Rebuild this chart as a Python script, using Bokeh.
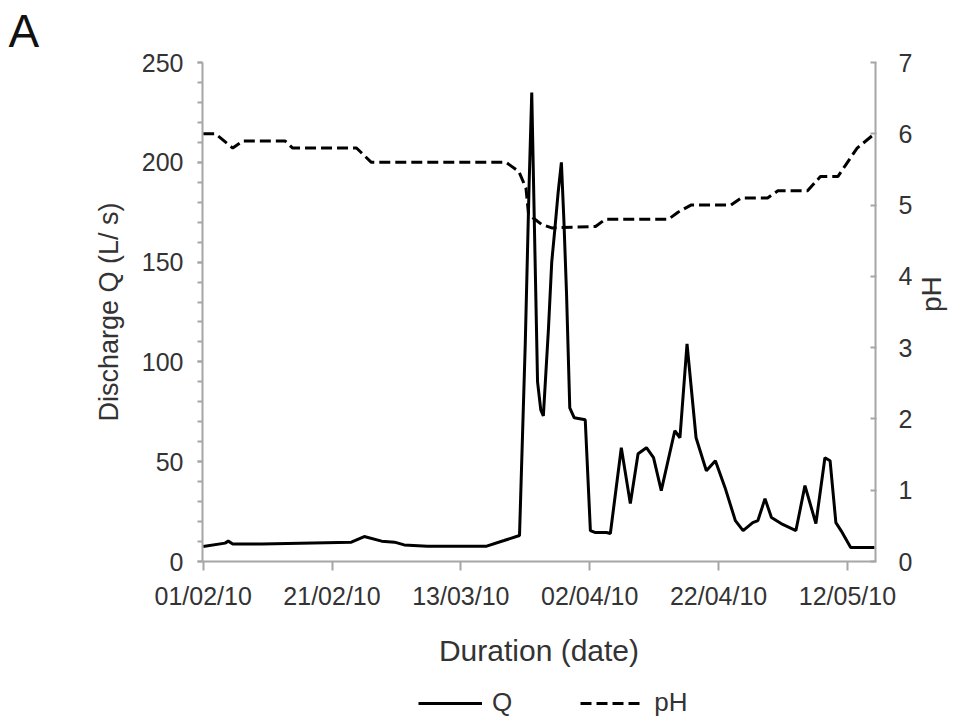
import math
import pandas as pd
from bokeh.plotting import figure
from bokeh.layouts import column
from bokeh.models import (Range1d, LinearAxis, FixedTicker, SingleIntervalTicker,
                          DatetimeTickFormatter, Legend, LegendItem, Title)
from bokeh.embed import file_html
from bokeh.resources import INLINE

# ---- data (days after 01/02/2010) ----
start_date = "2010-02-01"
x_range_days = [-0.1, 104.35]
x_tick_dates = ["2010-02-01", "2010-02-21", "2010-03-13", "2010-04-02", "2010-04-22", "2010-05-12"]
ph_ticks = [0, 1, 2, 3, 4, 5, 6, 7]

q_day = [0.0, 3.4, 3.9, 4.6, 9.1, 23.0, 25.0, 27.7, 29.7, 31.2, 34.8, 44.0, 46.7, 49.1, 50.0,
         50.6, 51.0, 51.4, 51.9, 52.4, 52.8, 53.6, 54.1, 54.6, 55.1, 55.6, 56.0, 56.4, 56.9, 57.6,
         59.3, 60.1, 60.9, 62.6, 63.2, 64.9, 66.3, 67.5, 68.8, 69.9, 71.1, 73.2, 74.0, 75.1, 76.5, 78.1,
         79.5, 81.0, 82.6, 83.8, 85.3, 86.1, 87.2, 88.2, 89.7, 92.0, 93.4, 95.1, 96.5, 97.3, 98.2,
         99.0, 100.5, 104.2]
q_val = [7.5, 9.2, 10.2, 8.8, 8.8, 9.7, 12.5, 10.2, 9.7, 8.3, 7.7, 7.7, 10.5, 13, 110,
         190, 235, 170, 90, 76, 73, 117, 150, 167, 185, 200, 170, 134, 77, 72,
         71, 15.5, 14.5, 14.5, 14, 57, 29, 54, 57, 52, 35.5, 65.5, 62, 109, 62, 45.5,
         50.5, 37, 20.5, 15.5, 19.5, 20.5, 31.5, 22, 19, 15.5, 38, 19, 52, 50.5, 19.5,
         15.5, 7, 7]

ph_day = [0.0, 1.9, 4.6, 6.2, 12.7, 13.9, 23.8, 26.1, 47.0, 49.0, 50.1, 50.5, 52.5, 54.1,
          60.9, 62.4, 72.2, 73.7, 75.7, 81.9, 83.5, 87.6, 89.2, 93.8, 95.8, 98.5, 100.0,
          101.5, 104.2]
ph_val = [6.0, 6.0, 5.8, 5.9, 5.9, 5.8, 5.8, 5.6, 5.6, 5.47, 5.24, 4.87, 4.73, 4.68,
          4.7, 4.8, 4.8, 4.9, 5.0, 5.0, 5.1, 5.1, 5.2, 5.2, 5.4, 5.4, 5.6,
          5.8, 6.0]

series_names = ["Q", "pH"]

FONT = "Liberation Sans"
TXT = "#333333"
AX = "#a6a6a6"
W = 965

base = pd.Timestamp(start_date)
to_t = lambda d: base + pd.to_timedelta(d, unit="D")
q_t = [to_t(d) for d in q_day]
ph_t = [to_t(d) for d in ph_day]
xr = Range1d(start=to_t(x_range_days[0]), end=to_t(x_range_days[1]))

p = figure(width=W, height=671, x_axis_type="datetime", x_range=xr,
           y_range=Range1d(0, 250), output_backend="svg", toolbar_location=None,
           min_border_left=202, min_border_right=87, min_border_top=61,
           min_border_bottom=110, background_fill_color="white",
           border_fill_color="white")
p.outline_line_color = None
p.grid.visible = False

p.extra_y_ranges = {"ph": Range1d(0, 7)}

Q_STYLE = dict(line_color="black", line_width=3)
PH_STYLE = dict(line_color="black", line_width=3, line_dash="11 5")

p.line(q_t, q_val, **Q_STYLE)
p.line(ph_t, ph_val, y_range_name="ph", **PH_STYLE)

# x axis
xa = p.xaxis[0]
xa.ticker = FixedTicker(ticks=[pd.Timestamp(d).value / 1e6 for d in x_tick_dates])
fmt = "%d/%m/%y"
xa.formatter = DatetimeTickFormatter(days=fmt, months=fmt, years=fmt, hours=fmt,
                                     minutes=fmt, seconds=fmt, milliseconds=fmt,
                                     minsec=fmt, hourmin=fmt)
xa.axis_label = "Duration (date)"
xa.major_tick_out = 9
xa.major_tick_in = 0
xa.minor_tick_out = 0
xa.major_label_standoff = 11
xa.axis_label_standoff = 21

# left axis
ya = p.yaxis[0]
ya.ticker = SingleIntervalTicker(interval=50, num_minor_ticks=5)
ya.axis_label = "Discharge Q (L/ s)"
ya.major_tick_out = 5
ya.major_tick_in = 0
ya.minor_tick_out = 5
ya.minor_tick_in = 0
ya.major_label_standoff = 14
ya.axis_label_standoff = 15

# right axis
ra = LinearAxis(y_range_name="ph", axis_label="pH",
                ticker=FixedTicker(ticks=ph_ticks))
ra.major_tick_in = 5
ra.major_tick_out = 1
ra.minor_tick_in = 0
ra.minor_tick_out = 0
ra.major_label_standoff = 22
ra.axis_label_standoff = 16
ra.axis_label_orientation = math.pi / 2
p.add_layout(ra, "right")

for ax in [xa, ya, ra]:
    ax.axis_line_color = AX
    ax.axis_line_width = 2
    ax.major_tick_line_color = AX
    ax.major_tick_line_width = 2
    ax.minor_tick_line_color = AX
    ax.minor_tick_line_width = 2
    ax.major_label_text_font = FONT
    ax.major_label_text_font_size = "25px"
    ax.major_label_text_color = TXT
    ax.axis_label_text_font = FONT
    ax.axis_label_text_font_style = "normal"
    ax.axis_label_text_color = TXT
xa.axis_label_text_font_size = "30px"
ya.axis_label_text_font_size = "27px"
ra.axis_label_text_font_size = "28px"

# panel letter
p.add_layout(Title(text="A", text_font=FONT, text_font_size="46px",
                   text_font_style="normal", text_color="#111111",
                   align="left", vertical_align="top", offset=-194, standoff=8), "above")

# legend strip (own small figure; its ranges keep the sample lines off-canvas)
lf = figure(width=W, height=51, x_range=Range1d(-2, -1), y_range=Range1d(0, 1),
            output_backend="svg", toolbar_location=None,
            min_border_left=0, min_border_right=0, min_border_top=0,
            min_border_bottom=0, border_fill_color="white")
lf.axis.visible = False
lf.grid.visible = False
lf.outline_line_color = None
lq = lf.line(q_t, q_val, **Q_STYLE)
lp = lf.line(ph_t, ph_val, **PH_STYLE)
legend = Legend(items=[LegendItem(label=series_names[0], renderers=[lq]),
                       LegendItem(label=series_names[1], renderers=[lp])],
                orientation="horizontal", location=(216, 4),
                glyph_width=64, label_standoff=10, spacing=68,
                padding=0, margin=0, border_line_color=None,
                background_fill_alpha=0, label_text_font=FONT,
                label_text_font_size="26px", label_text_color=TXT)
lf.add_layout(legend, "center")

open("out.html", "w").write(file_html(column(p, lf, spacing=0), INLINE))
